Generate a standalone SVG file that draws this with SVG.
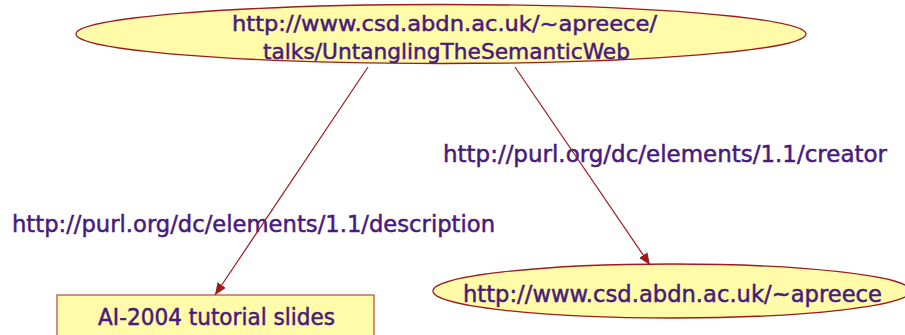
<svg xmlns="http://www.w3.org/2000/svg" width="905" height="335" viewBox="0 0 905 335">
<style>
.node{fill:#FFFBA8;stroke:#9B1C1C;stroke-width:1.3}
.rect{fill:#FFFBA8;stroke:#C0504D;stroke-width:1.3}
.t{font-family:"DejaVu Sans","Liberation Sans",sans-serif;font-size:23px;fill:#481A7C;stroke:#481A7C;stroke-width:0.5}
.t2{font-size:22px}
.edge{stroke:#9B1C1C;stroke-width:1.2;fill:none}
</style>
<defs>
<marker id="ah" viewBox="0 0 12 10" refX="12" refY="5" markerWidth="12" markerHeight="10" markerUnits="userSpaceOnUse" orient="auto">
<path d="M0,0 L12,5 L0,10 z" fill="#9B1C1C"/>
</marker>
</defs>
<g id="labels">
<text class="t" x="443" y="162" textLength="444" lengthAdjust="spacingAndGlyphs">http://purl.org/dc/elements/1.1/creator</text>
<text class="t" x="12" y="232" textLength="483" lengthAdjust="spacingAndGlyphs">http://purl.org/dc/elements/1.1/description</text>
</g>
<g id="n1">
<ellipse class="node" cx="441" cy="34" rx="365" ry="29.5"/>
<text class="t t2" x="232" y="31" textLength="425" lengthAdjust="spacingAndGlyphs">http://www.csd.abdn.ac.uk/~apreece/</text>
<text class="t t2" x="263" y="59" textLength="367" lengthAdjust="spacingAndGlyphs">talks/UntanglingTheSemanticWeb</text>
</g>
<g id="n2">
<ellipse class="node" cx="672" cy="291" rx="239" ry="27"/>
<text class="t" x="463" y="302" textLength="419" lengthAdjust="spacingAndGlyphs">http://www.csd.abdn.ac.uk/~apreece</text>
</g>
<g id="n3">
<rect class="rect" x="57" y="295" width="317" height="50"/>
<text class="t" x="98" y="325" textLength="237" lengthAdjust="spacingAndGlyphs">AI-2004 tutorial slides</text>
</g>
<g id="connectors">
<line class="edge" x1="368" y1="67" x2="215" y2="295" marker-end="url(#ah)"/>
<line class="edge" x1="515" y1="67" x2="650" y2="265" marker-end="url(#ah)"/>
</g>
</svg>
